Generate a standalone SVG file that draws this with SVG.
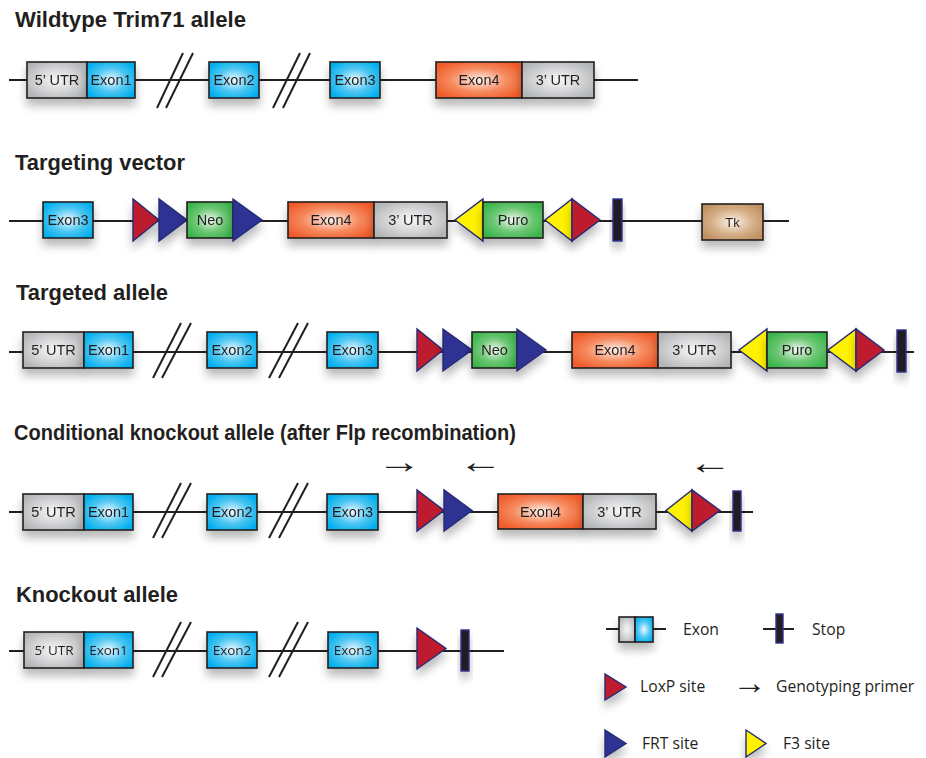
<svg xmlns="http://www.w3.org/2000/svg" xmlns:xlink="http://www.w3.org/1999/xlink" width="926" height="758" viewBox="0 0 926 758">
<style>
.title{font-family:"Liberation Sans",Arial,sans-serif;font-weight:bold;font-size:21.5px;fill:#231f20}
.lbl{font-family:"Liberation Sans",Arial,sans-serif;font-size:14.5px;fill:#231f20;text-anchor:middle}
.lbl2{font-family:"Open Sans","Liberation Sans",sans-serif;font-size:13.5px;fill:#231f20;text-anchor:middle}
.leg{font-family:"Open Sans","Liberation Sans",sans-serif;font-size:15.7px;fill:#231f20}
.arr{font-family:"Liberation Sans","DejaVu Sans",sans-serif;font-size:34px;fill:#231f20;text-anchor:middle}
.bk{stroke:#231f20;stroke-width:2;fill:none}
.box{stroke:#231f20;stroke-width:1.6}
.tri{stroke:#262a74;stroke-width:1.4;stroke-linejoin:miter}
.red{fill:#be1e2d}
.blue{fill:#2e3192}
.yel{fill:#fff200}
.stop{fill:#231f20;stroke:#2e3192;stroke-width:1.4}
.sl{stroke:#231f20;stroke-width:2}
</style>
<defs>
<filter id="sh" x="-40%" y="-40%" width="180%" height="200%">
<feGaussianBlur in="SourceAlpha" stdDeviation="5"/>
<feOffset dy="7" result="b"/>
<feComponentTransfer><feFuncA type="linear" slope="0.28"/></feComponentTransfer>
<feMerge><feMergeNode/><feMergeNode in="SourceGraphic"/></feMerge>
</filter>
<radialGradient id="gBlue" cx="50%" cy="50%" r="60%"><stop offset="0" stop-color="#eefaff"/><stop offset="0.55" stop-color="#4cc6f2"/><stop offset="1" stop-color="#00aeef"/></radialGradient>
<radialGradient id="gGray" cx="50%" cy="50%" r="60%"><stop offset="0" stop-color="#f7f7f7"/><stop offset="0.6" stop-color="#d0d1d3"/><stop offset="1" stop-color="#b3b4b6"/></radialGradient>
<radialGradient id="gOr" cx="50%" cy="50%" r="60%"><stop offset="0" stop-color="#fff1ea"/><stop offset="0.55" stop-color="#f58a5e"/><stop offset="1" stop-color="#f15a29"/></radialGradient>
<radialGradient id="gGr" cx="50%" cy="50%" r="60%"><stop offset="0" stop-color="#f2fbf2"/><stop offset="0.55" stop-color="#6cc673"/><stop offset="1" stop-color="#39b54a"/></radialGradient>
<radialGradient id="gTk" cx="50%" cy="50%" r="60%"><stop offset="0" stop-color="#fbf1e6"/><stop offset="0.6" stop-color="#d4ad85"/><stop offset="1" stop-color="#bf9060"/></radialGradient>
<g id="slashes">
<line class="sl" x1="153" y1="26" x2="181" y2="-29"/>
<line class="sl" x1="162" y1="26" x2="191" y2="-29"/>
<line class="sl" x1="269" y1="26" x2="298" y2="-29"/>
<line class="sl" x1="279" y1="26" x2="308" y2="-29"/>
</g>
</defs>
<rect width="926" height="758" fill="#ffffff"/>

<text class="title" x="15" y="27" textLength="231" lengthAdjust="spacingAndGlyphs">Wildtype Trim71 allele</text>
<text class="title" x="15" y="170" textLength="170" lengthAdjust="spacingAndGlyphs">Targeting vector</text>
<text class="title" x="16" y="300" textLength="152" lengthAdjust="spacingAndGlyphs">Targeted allele</text>
<text class="title" x="14" y="440" textLength="502" lengthAdjust="spacingAndGlyphs">Conditional knockout allele (after Flp recombination)</text>
<text class="title" x="16" y="602" textLength="162" lengthAdjust="spacingAndGlyphs">Knockout allele</text>

<g id="connectors">
<line class="bk" x1="9" y1="80" x2="638" y2="80"/>
<line class="sl" x1="157" y1="108" x2="183" y2="53"/>
<line class="sl" x1="166" y1="108" x2="193" y2="53"/>
<line class="sl" x1="273" y1="108" x2="300" y2="53"/>
<line class="sl" x1="283" y1="108" x2="310" y2="53"/>
<line class="bk" x1="9" y1="221" x2="789" y2="221"/>
<line class="bk" x1="9" y1="352" x2="914" y2="352"/>
<use xlink:href="#slashes" transform="translate(0,352)"/>
<line class="bk" x1="9" y1="512" x2="753" y2="512"/>
<use xlink:href="#slashes" transform="translate(0,512)"/>
<line class="bk" x1="9" y1="651" x2="504" y2="651"/>
<use xlink:href="#slashes" transform="translate(0,651)"/>
</g>

<!-- Row 1 -->
<g id="wt-utr5" filter="url(#sh)"><rect class="box" x="27" y="62" width="60" height="36" fill="url(#gGray)"/><text class="lbl" x="57" y="85">5’ UTR</text></g>
<g id="wt-exon1" filter="url(#sh)"><rect class="box" x="87" y="62" width="48" height="36" fill="url(#gBlue)"/><text class="lbl" x="111" y="85">Exon1</text></g>
<g id="wt-exon2" filter="url(#sh)"><rect class="box" x="209" y="62" width="50" height="36" fill="url(#gBlue)"/><text class="lbl" x="234" y="85">Exon2</text></g>
<g id="wt-exon3" filter="url(#sh)"><rect class="box" x="330" y="62" width="50" height="36" fill="url(#gBlue)"/><text class="lbl" x="355" y="85">Exon3</text></g>
<g id="wt-exon4" filter="url(#sh)"><rect class="box" x="436" y="62" width="86" height="36" fill="url(#gOr)"/><text class="lbl" x="479" y="85">Exon4</text></g>
<g id="wt-utr3" filter="url(#sh)"><rect class="box" x="522" y="62" width="72" height="36" fill="url(#gGray)"/><text class="lbl" x="558" y="85">3’ UTR</text></g>

<!-- Row 2 -->
<g id="tv-exon3" filter="url(#sh)"><rect class="box" x="43" y="202" width="50" height="36" fill="url(#gBlue)"/><text class="lbl" x="68" y="225">Exon3</text></g>
<g id="tv-loxp1" filter="url(#sh)"><polygon class="tri red" points="133,199 133,241 159,220"/></g>
<g id="tv-frt1" filter="url(#sh)"><polygon class="tri blue" points="159,199 159,241 187,220"/></g>
<g id="tv-neo" filter="url(#sh)"><rect class="box" x="187" y="202" width="46" height="36" fill="url(#gGr)"/><text class="lbl" x="210" y="225">Neo</text></g>
<g id="tv-frt2" filter="url(#sh)"><polygon class="tri blue" points="233,199 233,241 262,220"/></g>
<g id="tv-exon4" filter="url(#sh)"><rect class="box" x="288" y="202" width="86" height="36" fill="url(#gOr)"/><text class="lbl" x="331" y="225">Exon4</text></g>
<g id="tv-utr3" filter="url(#sh)"><rect class="box" x="374" y="202" width="73" height="36" fill="url(#gGray)"/><text class="lbl" x="410.5" y="225">3’ UTR</text></g>
<g id="tv-f3a" filter="url(#sh)"><polygon class="tri yel" points="483,199 483,241 455,220"/></g>
<g id="tv-puro" filter="url(#sh)"><rect class="box" x="483" y="202" width="60" height="36" fill="url(#gGr)"/><text class="lbl" x="513" y="225">Puro</text></g>
<g id="tv-f3b" filter="url(#sh)"><polygon class="tri yel" points="572,199 572,241 545,220"/></g>
<g id="tv-loxp2" filter="url(#sh)"><polygon class="tri red" points="572,199 572,241 600,220"/></g>
<g id="tv-stop" filter="url(#sh)"><rect class="stop" x="613" y="199" width="9" height="42"/></g>
<g id="tv-tk" filter="url(#sh)"><rect class="box" x="702" y="204" width="61" height="36" fill="url(#gTk)"/><text class="lbl" x="732.5" y="227" style="font-size:13px">Tk</text></g>

<!-- Row 3 -->
<g id="ta-utr5" filter="url(#sh)"><rect class="box" x="23" y="332" width="61" height="36" fill="url(#gGray)"/><text class="lbl" x="53.5" y="355">5’ UTR</text></g>
<g id="ta-exon1" filter="url(#sh)"><rect class="box" x="84" y="332" width="49" height="36" fill="url(#gBlue)"/><text class="lbl" x="108.5" y="355">Exon1</text></g>
<g id="ta-exon2" filter="url(#sh)"><rect class="box" x="207" y="332" width="50" height="36" fill="url(#gBlue)"/><text class="lbl" x="232" y="355">Exon2</text></g>
<g id="ta-exon3" filter="url(#sh)"><rect class="box" x="327" y="332" width="51" height="36" fill="url(#gBlue)"/><text class="lbl" x="352.5" y="355">Exon3</text></g>
<g id="ta-loxp1" filter="url(#sh)"><polygon class="tri red" points="417,329 417,371 443,350"/></g>
<g id="ta-frt1" filter="url(#sh)"><polygon class="tri blue" points="443,329 443,371 472,350"/></g>
<g id="ta-neo" filter="url(#sh)"><rect class="box" x="472" y="332" width="45" height="36" fill="url(#gGr)"/><text class="lbl" x="494.5" y="355">Neo</text></g>
<g id="ta-frt2" filter="url(#sh)"><polygon class="tri blue" points="517,329 517,371 546,350"/></g>
<g id="ta-exon4" filter="url(#sh)"><rect class="box" x="572" y="332" width="86" height="36" fill="url(#gOr)"/><text class="lbl" x="615" y="355">Exon4</text></g>
<g id="ta-utr3" filter="url(#sh)"><rect class="box" x="658" y="332" width="73" height="36" fill="url(#gGray)"/><text class="lbl" x="694.5" y="355">3’ UTR</text></g>
<g id="ta-f3a" filter="url(#sh)"><polygon class="tri yel" points="767,329 767,371 739,350"/></g>
<g id="ta-puro" filter="url(#sh)"><rect class="box" x="767" y="332" width="60" height="36" fill="url(#gGr)"/><text class="lbl" x="797" y="355">Puro</text></g>
<g id="ta-f3b" filter="url(#sh)"><polygon class="tri yel" points="856,329 856,371 828,350"/></g>
<g id="ta-loxp2" filter="url(#sh)"><polygon class="tri red" points="856,329 856,371 884,350"/></g>
<g id="ta-stop" filter="url(#sh)"><rect class="stop" x="897" y="330" width="9" height="42"/></g>

<!-- Row 4 -->
<g id="ck-utr5" filter="url(#sh)"><rect class="box" x="23" y="494" width="61" height="36" fill="url(#gGray)"/><text class="lbl" x="53.5" y="517">5’ UTR</text></g>
<g id="ck-exon1" filter="url(#sh)"><rect class="box" x="84" y="494" width="49" height="36" fill="url(#gBlue)"/><text class="lbl" x="108.5" y="517">Exon1</text></g>
<g id="ck-exon2" filter="url(#sh)"><rect class="box" x="207" y="494" width="50" height="36" fill="url(#gBlue)"/><text class="lbl" x="232" y="517">Exon2</text></g>
<g id="ck-exon3" filter="url(#sh)"><rect class="box" x="327" y="494" width="51" height="36" fill="url(#gBlue)"/><text class="lbl" x="352.5" y="517">Exon3</text></g>
<g id="ck-loxp1" filter="url(#sh)"><polygon class="tri red" points="417,490 417,531 444,510.5"/></g>
<g id="ck-frt1" filter="url(#sh)"><polygon class="tri blue" points="444,490 444,531 472,510.5"/></g>
<g id="ck-exon4" filter="url(#sh)"><rect class="box" x="498" y="494" width="85" height="35" fill="url(#gOr)"/><text class="lbl" x="540.5" y="517">Exon4</text></g>
<g id="ck-utr3" filter="url(#sh)"><rect class="box" x="583" y="494" width="73" height="35" fill="url(#gGray)"/><text class="lbl" x="619.5" y="517">3’ UTR</text></g>
<g id="ck-f3" filter="url(#sh)"><polygon class="tri yel" points="692,490 692,531 666,510.5"/></g>
<g id="ck-loxp2" filter="url(#sh)"><polygon class="tri red" points="692,490 692,531 720,510.5"/></g>
<g id="ck-stop" filter="url(#sh)"><rect class="stop" x="733" y="491" width="8" height="40"/></g>
<g id="primers">
<text class="arr" transform="translate(399,473) scale(1.3,1)">→</text>
<text class="arr" transform="translate(480.5,473) scale(1.3,1)">←</text>
<text class="arr" transform="translate(710,474) scale(1.3,1)">←</text>
</g>

<!-- Row 5 -->
<g id="ko-utr5" filter="url(#sh)"><rect class="box" x="24" y="632" width="60" height="36" fill="url(#gGray)"/><text class="lbl2" x="54" y="655">5’ UTR</text></g>
<g id="ko-exon1" filter="url(#sh)"><rect class="box" x="84" y="632" width="49" height="36" fill="url(#gBlue)"/><text class="lbl2" x="108.5" y="655">Exon1</text></g>
<g id="ko-exon2" filter="url(#sh)"><rect class="box" x="207" y="632" width="50" height="36" fill="url(#gBlue)"/><text class="lbl2" x="232" y="655">Exon2</text></g>
<g id="ko-exon3" filter="url(#sh)"><rect class="box" x="328" y="632" width="50" height="36" fill="url(#gBlue)"/><text class="lbl2" x="353" y="655">Exon3</text></g>
<g id="ko-loxp" filter="url(#sh)"><polygon class="tri red" points="417,628 417,669 446,648.5"/></g>
<g id="ko-stop" filter="url(#sh)"><rect class="stop" x="461" y="630" width="8" height="41"/></g>

<!-- Legend -->
<g id="legend-exon">
<line class="bk" x1="606" y1="629" x2="666" y2="629"/>
<g filter="url(#sh)"><rect class="box" x="619" y="617" width="16" height="25" fill="url(#gGray)"/><rect class="box" x="635" y="617" width="18" height="25" fill="url(#gBlue)"/></g>
<text class="leg" x="683" y="635">Exon</text>
</g>
<g id="legend-stop">
<line class="bk" x1="763" y1="629" x2="794" y2="629"/>
<rect class="stop" x="776" y="614" width="7" height="29"/>
<text class="leg" x="812" y="635">Stop</text>
</g>
<g id="legend-loxp">
<polygon class="tri red" filter="url(#sh)" points="605,674 605,700 626,687"/>
<text class="leg" x="640" y="692">LoxP site</text>
</g>
<g id="legend-primer">
<text class="arr" x="749.5" y="694">→</text>
<text class="leg" x="776" y="692">Genotyping primer</text>
</g>
<g id="legend-frt">
<polygon class="tri blue" filter="url(#sh)" points="605,730 605,757 626,743.5"/>
<text class="leg" x="642" y="749">FRT site</text>
</g>
<g id="legend-f3">
<polygon class="tri yel" filter="url(#sh)" points="746,730 746,757 766,743.5"/>
<text class="leg" x="783" y="749">F3 site</text>
</g>
</svg>
